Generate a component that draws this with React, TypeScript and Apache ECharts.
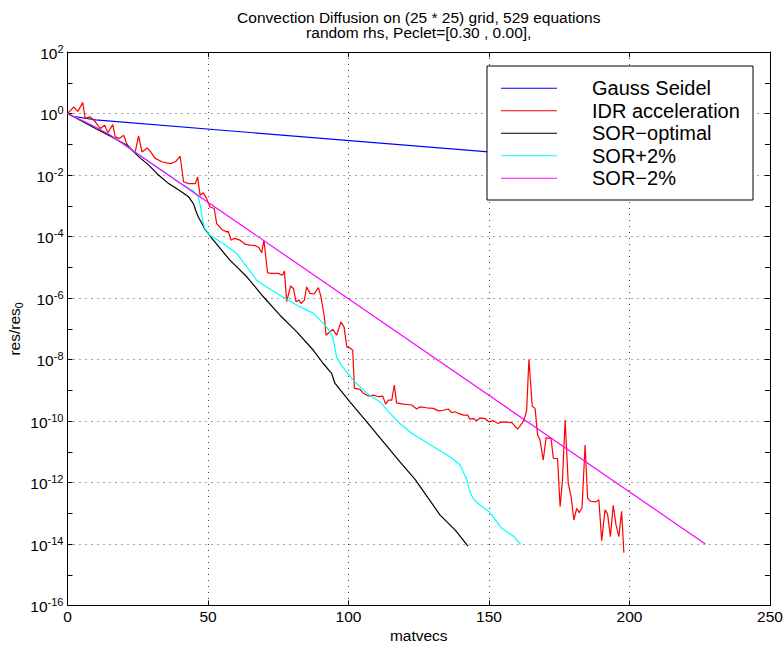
import React, { useEffect, useRef } from "react";
import * as echarts from "echarts";

// Residual histories: [matvecs, log10(res/res0)]
const gaussSeidel: [number, number][] = [
  [0, 0], [2, -0.09], [10, -0.21], [200, -1.62],
];

const idrAcceleration: [number, number][] = [
  [0, 0], [2.2, 0.21], [3.7, 0.07], [5.4, 0.36], [6.3, -0.16], [8.1, -0.11], [9.9, -0.27],
  [11.7, -0.49], [13.2, -0.38], [14.4, -0.62], [16.1, -0.36], [17.0, -0.76], [18.4, -0.81],
  [20.0, -0.71], [21.2, -1.01], [23.0, -1.19], [24.1, -1.25], [25.3, -0.73], [26.5, -1.25],
  [28.3, -1.12], [29.5, -1.23], [31.2, -1.46], [33.6, -1.57], [36.6, -1.63], [38.4, -1.57],
  [40.1, -1.39], [41.3, -2.22], [43.1, -2.28], [45.5, -2.28], [46.3, -2.06], [47.2, -2.66],
  [48.3, -2.58], [49.5, -2.76], [50.7, -3.04], [52.2, -3.09], [53.1, -3.58], [54.9, -3.77],
  [56.7, -3.85], [57.2, -3.83], [58.2, -4.12], [59.4, -4.06], [61.4, -4.12], [63.2, -4.25],
  [64.9, -4.28], [66.7, -4.29], [68.1, -4.36], [69.1, -4.53], [69.9, -4.12], [71.2, -5.18],
  [72.7, -5.2], [75.0, -5.2], [76.5, -5.26], [77.2, -5.12], [78.0, -6.12], [79.4, -5.61],
  [80.4, -5.69], [81.3, -6.12], [82.4, -6.07], [83.1, -6.18], [84.3, -6.07], [85.1, -5.64],
  [86.3, -5.85], [87.8, -5.87], [89.3, -5.66], [90.2, -5.96], [91.4, -6.61], [92.0, -7.21],
  [93.4, -7.1], [94.4, -7.02], [95.8, -7.21], [97.3, -6.78], [98.4, -6.94], [99.4, -7.59],
  [100.8, -7.64], [101.5, -7.7], [102.1, -8.94], [104.1, -8.97], [105.3, -9.1], [107.1, -9.19],
  [108.8, -9.16], [110.6, -9.21], [112.2, -9.19], [113.2, -9.45], [114.2, -9.32], [115.4, -9.32],
  [116.3, -8.83], [117.1, -9.41], [119.5, -9.45], [122.5, -9.48], [124.3, -9.61], [125.4, -9.54],
  [127.8, -9.57], [130.2, -9.59], [132.0, -9.67], [133.7, -9.65], [135.5, -9.61], [136.7, -9.73],
  [137.9, -9.7], [139.1, -9.75], [140.9, -9.81], [142.4, -9.81], [143.2, -9.94], [144.4, -9.92],
  [145.6, -9.99], [146.8, -9.9], [148.6, -9.92], [150.0, -10.03], [151.5, -9.99], [153.3, -10.08],
  [154.5, -10.03], [158.1, -10.05], [160.2, -10.26], [161.9, -10.06], [162.8, -9.86], [163.4, -9.65],
  [164.2, -8.0], [165.4, -9.52], [166.4, -9.59], [167.3, -10.46], [168.1, -10.6], [169.3, -11.27],
  [170.3, -10.55], [172.1, -10.57], [172.9, -11.22], [174.4, -11.22], [175.3, -12.79], [176.1, -11.98],
  [177.1, -9.97], [178.2, -12.03], [179.2, -12.46], [180.2, -13.22], [181.2, -12.84], [182.1, -12.98],
  [183.1, -12.82], [184.2, -10.78], [185.1, -12.51], [186.1, -12.61], [188.1, -12.63], [189.1, -12.56],
  [190.1, -13.89], [191.3, -12.89], [192.2, -13.03], [193.2, -13.76], [194.2, -12.74], [195.2, -13.38],
  [196.2, -13.76], [197.2, -12.94], [198.0, -14.28],
];

const sorOptimal: [number, number][] = [
  [0, 0], [5, -0.24], [10, -0.49], [15.8, -0.76], [21.2, -1.03], [25.4, -1.41], [28.9, -1.68],
  [32.5, -2.01], [36, -2.28], [39.6, -2.49], [43.1, -2.71], [44.8, -2.93], [45.7, -3.17],
  [46.5, -3.36], [47.8, -3.57], [48.9, -3.76], [51.9, -4.12], [57.8, -4.77], [63.8, -5.31],
  [69.7, -5.96], [75.6, -6.56], [81.6, -7.1], [87.5, -7.7], [91, -8.13], [94, -8.45],
  [95.2, -8.78], [100.5, -9.38], [106.5, -10.03], [112.4, -10.68], [118.3, -11.33],
  [123.7, -11.9], [132.6, -13.06], [138, -13.55], [142.5, -14.07],
];

const sorPlus2: [number, number][] = [
  [0, 0], [5, -0.21], [10, -0.44], [15, -0.68], [25, -1.31], [35, -1.94], [40, -2.25],
  [44.8, -2.52], [46.5, -2.71], [47.4, -3.05], [48.1, -3.52], [48.9, -3.74], [50.7, -3.96],
  [55.4, -4.23], [60.2, -4.55], [63.8, -4.99], [67.3, -5.42], [70.9, -5.64], [75.6, -5.91],
  [82, -6.25], [87.5, -6.5], [92.2, -6.94], [94.4, -7.26], [95.8, -7.94], [97.9, -8.24],
  [101.7, -8.67], [106.5, -9.1], [111.2, -9.38], [114.8, -9.75], [118.3, -10.08], [122.5, -10.4],
  [130.2, -10.84], [136.1, -11.16], [139.7, -11.43], [142.1, -11.9], [143.2, -12.31],
  [144.7, -12.57], [146.8, -12.73], [150.4, -12.98], [154.5, -13.49], [158.6, -13.74],
  [161.3, -14.01],
];

const sorMinus2: [number, number][] = [
  [0, 0], [5, -0.22], [10, -0.45], [15, -0.69], [227, -14.0],
];

const seriesNames = ["Gauss Seidel", "IDR acceleration", "SOR\u2212optimal", "SOR+2%", "SOR\u22122%"];
const seriesColors = ["#0000ff", "#ff0000", "#000000", "#00ffff", "#ff00ff"];
const seriesData = [gaussSeidel, idrAcceleration, sorOptimal, sorPlus2, sorMinus2];

const titleLines = [
  "Convection Diffusion on (25 * 25) grid, 529 equations",
  "random rhs, Peclet=[0.30 , 0.00],",
];

const FONT = "'Liberation Sans', Arial, Helvetica, sans-serif";

export default function App() {
  const ref = useRef<HTMLDivElement>(null);

  useEffect(() => {
    if (!ref.current) return;
    const chart = echarts.init(ref.current, undefined, { renderer: "svg" });

    const gridLine = { show: true, lineStyle: { color: "#444", width: 1, type: [1, 5] as number[] } };
    const axisLine = { show: true, onZero: false, lineStyle: { color: "#000", width: 1 } };
    const tick = { show: true, inside: true, length: 5, lineStyle: { color: "#000" } };
    const minorTick = { show: true, splitNumber: 2, length: 5, lineStyle: { color: "#000" } };

    chart.setOption({
      animation: false,
      backgroundColor: "#fff",
      grid: { left: 67.5, right: 13, top: 52, bottom: 40.5, containLabel: false, outerBoundsMode: "none" },
      xAxis: [
        {
          type: "value", min: 0, max: 250, interval: 50, position: "bottom",
          axisLine, axisTick: tick, splitLine: gridLine,
          axisLabel: { color: "#000", fontSize: 15.5, fontFamily: FONT, margin: 3 },
          name: "matvecs", nameLocation: "middle", nameGap: 22, nameMoveOverlap: false,
          nameTextStyle: { color: "#000", fontSize: 15.5, fontFamily: FONT, verticalAlign: "top" },
        },
        {
          type: "value", min: 0, max: 250, interval: 50, position: "top",
          axisLine, axisTick: tick, splitLine: { show: false }, axisLabel: { show: false },
        },
      ],
      yAxis: [
        {
          type: "value", min: -16, max: 2, interval: 2, position: "left",
          axisLine, axisTick: tick, splitLine: gridLine, minorTick,
          axisLabel: {
            margin: 4,
            formatter: (v: number) => `{b|10}{e|${v}}`,
            rich: {
              b: { fontSize: 15.5, fontFamily: FONT, color: "#000", lineHeight: 18, padding: [7, 0, 0, 0], verticalAlign: "bottom" },
              e: { fontSize: 11, fontFamily: FONT, color: "#000", lineHeight: 12, verticalAlign: "top" },
            },
          },
        },
        {
          type: "value", min: -16, max: 2, interval: 2, position: "right",
          axisLine, axisTick: tick, splitLine: { show: false }, axisLabel: { show: false }, minorTick,
        },
      ],
      legend: {
        orient: "vertical", left: 501, top: 77, padding: 0, z: 20,
        icon: "rect", itemWidth: 56, itemHeight: 1.2, itemGap: 0,
        data: seriesNames,
        textStyle: { color: "#000", fontSize: 20, fontFamily: FONT, lineHeight: 22.5, padding: [0, 0, 0, 30] },
      },
      graphic: [
        {
          type: "rect", z: 10,
          shape: { x: 487, y: 66, width: 266, height: 134 },
          style: { fill: "#fff", stroke: "#000", lineWidth: 1 },
        },
        ...titleLines.map((t, i) => ({
          type: "text", x: 418.75, y: 17 + i * 15.5,
          style: { text: t, fontSize: 15.5, fontFamily: FONT, fill: "#000", align: "center", verticalAlign: "middle" },
        })),
        {
          // y-axis title, rotated along the left edge
          type: "text", x: 15, y: 329, rotation: Math.PI / 2,
          style: {
            text: "{a|res/res}{s|0}", align: "center", verticalAlign: "middle",
            rich: {
              a: { fontSize: 15.5, fontFamily: FONT, fill: "#000", lineHeight: 18, padding: [0, 0, 3, 0], verticalAlign: "top" },
              s: { fontSize: 10.5, fontFamily: FONT, fill: "#000", lineHeight: 11, verticalAlign: "bottom" },
            },
          },
        },
      ],
      series: seriesNames.map((name, i) => ({
        name, type: "line", symbol: "none", silent: true,
        data: seriesData[i].map(([x, e]) => [x, e]),
        lineStyle: { color: seriesColors[i], width: 1.2 },
        itemStyle: { color: seriesColors[i] },
        z: 2 + i * 0.01,
      })),
    });

    return () => chart.dispose();
  }, []);

  return <div ref={ref} style={{ position: "absolute", left: 0, top: 0, width: 783, height: 646 }} />;
}
